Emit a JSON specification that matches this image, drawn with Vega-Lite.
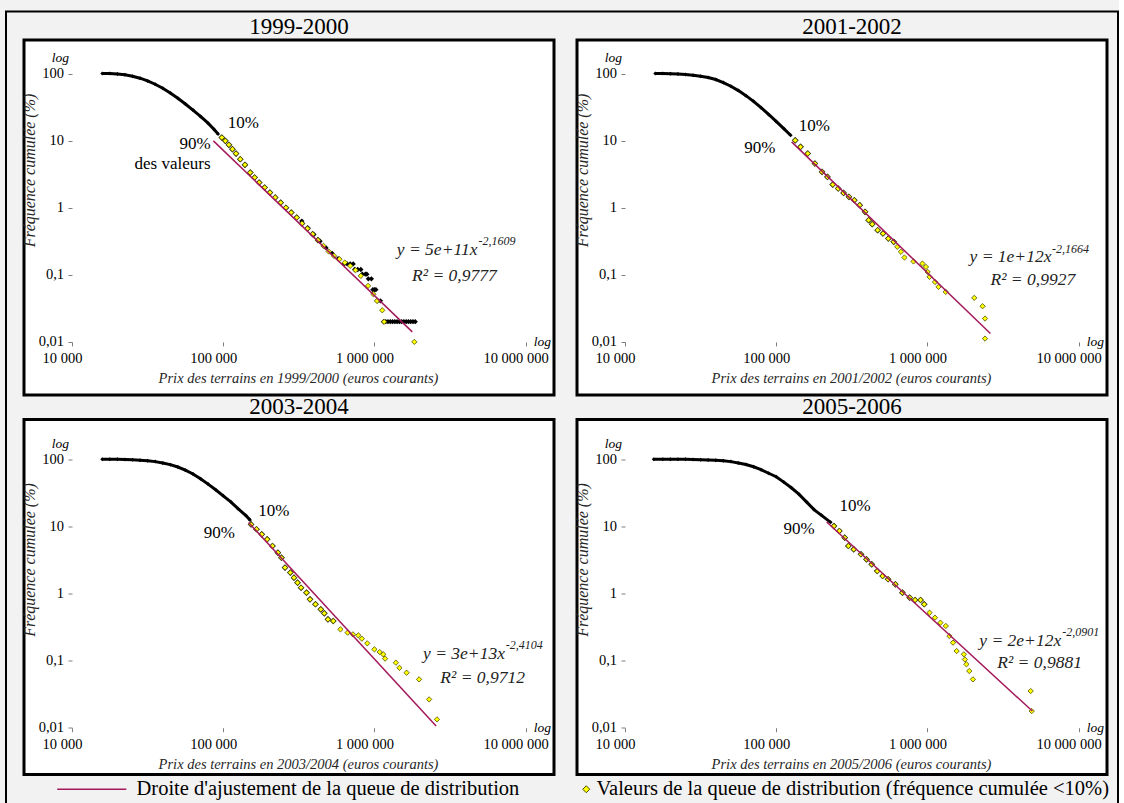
{
 "$schema": "https://vega.github.io/schema/vega-lite/v6.json",
 "background": "#f2f2f2",
 "padding": {"left": 5, "top": 10, "right": 0, "bottom": 0},
 "config": {
  "font": "Liberation Serif",
  "view": {"fill": "white", "stroke": "black", "strokeWidth": 3},
  "title": {"font": "Liberation Serif", "fontSize": 23, "fontWeight": "normal", "color": "black", "offset": 1, "anchor": "middle"},
  "axis": {"domain": false, "grid": false, "ticks": true, "tickSize": 4, "tickColor": "#7f7f7f", "labelFont": "Liberation Serif", "labelFontSize": 14.5, "labelColor": "black", "titleFont": "Liberation Serif", "titleFontStyle": "italic", "titleFontWeight": "normal", "titleColor": "#262626", "labelOverlap": false, "labelFlush": false},
  "axisX": {"labelPadding": 5.5, "titleFontSize": 14.5, "titlePadding": 7, "titleX": 274},
  "axisY": {"labelPadding": 4.5, "titleFontSize": 16, "titlePadding": 1},
  "legend": {"labelFont": "Liberation Serif", "labelFontSize": 20.5, "labelColor": "black", "labelLimit": 0, "padding": 0, "orient": "none", "strokeWidth": 2}
 },
 "datasets": {
  "logy": [{"t": "log", "x": 10000, "y": 170}],
  "logx": [{"t": "log", "x": 11300000, "y": 0.01}],
  "b1": [{"x":15850,"y":100},{"x":17780,"y":100},{"x":19950,"y":98.4},{"x":22390,"y":95.5},{"x":25120,"y":91.2},{"x":28180,"y":85.1},{"x":31620,"y":77.6},{"x":35480,"y":69.2},{"x":39810,"y":60.3},{"x":44670,"y":51.3},{"x":50120,"y":42.7},{"x":56230,"y":35.1},{"x":63100,"y":28.5},{"x":70790,"y":22.9},{"x":79430,"y":18.2},{"x":87100,"y":14.6},{"x":92500,"y":12.5}],
  "k1": [{"x":331000,"y":0.631},{"x":363000,"y":0.501},{"x":398000,"y":0.398},{"x":437000,"y":0.316},{"x":479000,"y":0.251},{"x":525000,"y":0.209},{"x":575000,"y":0.174},{"x":631000,"y":0.145},{"x":661000,"y":0.145},{"x":692000,"y":0.145},{"x":724000,"y":0.145},{"x":741000,"y":0.12},{"x":776000,"y":0.12},{"x":813000,"y":0.12},{"x":832000,"y":0.102},{"x":871000,"y":0.102},{"x":891000,"y":0.102},{"x":912000,"y":0.087},{"x":955000,"y":0.087},{"x":977000,"y":0.06},{"x":1000000,"y":0.06},{"x":1023000,"y":0.06},{"x":1047000,"y":0.041},{"x":1096000,"y":0.041},{"x":1148000,"y":0.02},{"x":1189000,"y":0.02},{"x":1230000,"y":0.02},{"x":1274000,"y":0.02},{"x":1318000,"y":0.02},{"x":1365000,"y":0.02},{"x":1413000,"y":0.02},{"x":1462000,"y":0.02},{"x":1514000,"y":0.02},{"x":1567000,"y":0.02},{"x":1622000,"y":0.02},{"x":1679000,"y":0.02},{"x":1738000,"y":0.02},{"x":1799000,"y":0.02},{"x":1862000,"y":0.02}],
  "t1": [{"x":97900,"y":11.1},{"x":103300,"y":9.91},{"x":109100,"y":8.65},{"x":115100,"y":7.45},{"x":121600,"y":6.41},{"x":129700,"y":5.28},{"x":139300,"y":4.35},{"x":151000,"y":3.34},{"x":161400,"y":2.82},{"x":173000,"y":2.37},{"x":187900,"y":2.0},{"x":203700,"y":1.68},{"x":220800,"y":1.42},{"x":239900,"y":1.19},{"x":260000,"y":1.0},{"x":281800,"y":0.847},{"x":306200,"y":0.713},{"x":331900,"y":0.581},{"x":360600,"y":0.489},{"x":390800,"y":0.403},{"x":423600,"y":0.328},{"x":460300,"y":0.27},{"x":498900,"y":0.222},{"x":540800,"y":0.191},{"x":587500,"y":0.171},{"x":636800,"y":0.152},{"x":691800,"y":0.136},{"x":749900,"y":0.117},{"x":812800,"y":0.0964},{"x":907800,"y":0.0684},{"x":984000,"y":0.0514},{"x":1040000,"y":0.0408},{"x":1127000,"y":0.0296},{"x":1159000,"y":0.0199},{"x":1837000,"y":0.01}],
  "f1": [{"x":86100,"y":9.9},{"x":1780000,"y":0.0141}],
  "b2": [{"x":15850,"y":100},{"x":17780,"y":100},{"x":19950,"y":99.5},{"x":22390,"y":98.4},{"x":25120,"y":96.6},{"x":28180,"y":94.4},{"x":31620,"y":91.2},{"x":35480,"y":87.1},{"x":39810,"y":81.3},{"x":44670,"y":73.3},{"x":50120,"y":64.6},{"x":56230,"y":55.6},{"x":63100,"y":46.8},{"x":70790,"y":38.5},{"x":79430,"y":30.9},{"x":89130,"y":24.5},{"x":100000,"y":19.3},{"x":112200,"y":15.1},{"x":124500,"y":12.0}],
  "t2": [{"x":133600,"y":10.1},{"x":144900,"y":8.07},{"x":161600,"y":6.42},{"x":180300,"y":4.55},{"x":201000,"y":3.42},{"x":218200,"y":2.88},{"x":236600,"y":2.21},{"x":257000,"y":1.93},{"x":279000,"y":1.66},{"x":302700,"y":1.45},{"x":328600,"y":1.29},{"x":356500,"y":1.09},{"x":387100,"y":0.867},{"x":408500,"y":0.651},{"x":431500,"y":0.568},{"x":468800,"y":0.462},{"x":508200,"y":0.412},{"x":551800,"y":0.347},{"x":598500,"y":0.31},{"x":632000,"y":0.261},{"x":668000,"y":0.22},{"x":705000,"y":0.181},{"x":809000,"y":0.158},{"x":927000,"y":0.147},{"x":978000,"y":0.131},{"x":1004000,"y":0.11},{"x":1033000,"y":0.093},{"x":1122000,"y":0.078},{"x":1184000,"y":0.066},{"x":1321000,"y":0.0556},{"x":2042000,"y":0.0453},{"x":2317000,"y":0.034},{"x":2404000,"y":0.0223},{"x":2404000,"y":0.0112}],
  "f2": [{"x":126500,"y":9.57},{"x":2610000,"y":0.0133}],
  "b3": [{"x":15850,"y":100},{"x":17780,"y":100},{"x":19950,"y":100},{"x":22390,"y":99.3},{"x":25120,"y":98.4},{"x":28180,"y":97.0},{"x":31620,"y":95.1},{"x":35480,"y":92.3},{"x":39810,"y":88.1},{"x":44670,"y":83.2},{"x":50120,"y":76.7},{"x":56230,"y":68.9},{"x":63100,"y":60.3},{"x":70790,"y":51.3},{"x":79430,"y":42.7},{"x":89130,"y":35.1},{"x":100000,"y":28.5},{"x":112200,"y":23.2},{"x":125900,"y":18.2},{"x":141300,"y":14.5},{"x":150300,"y":12.5}],
  "t3": [{"x":152800,"y":10.7},{"x":166000,"y":9.06},{"x":179900,"y":7.62},{"x":195300,"y":6.42},{"x":211800,"y":5.10},{"x":230000,"y":4.06},{"x":242800,"y":3.42},{"x":256300,"y":2.43},{"x":278000,"y":2.05},{"x":293800,"y":1.72},{"x":310300,"y":1.45},{"x":327400,"y":1.22},{"x":355600,"y":1.03},{"x":375100,"y":0.818},{"x":407400,"y":0.69},{"x":441800,"y":0.581},{"x":466400,"y":0.506},{"x":493000,"y":0.412},{"x":534600,"y":0.389},{"x":596100,"y":0.292},{"x":665000,"y":0.261},{"x":721000,"y":0.246},{"x":783000,"y":0.238},{"x":826000,"y":0.212},{"x":897000,"y":0.181},{"x":1000000,"y":0.147},{"x":1084000,"y":0.134},{"x":1145000,"y":0.124},{"x":1177000,"y":0.107},{"x":1387000,"y":0.093},{"x":1464000,"y":0.078},{"x":1632000,"y":0.066},{"x":1975000,"y":0.0525},{"x":2301000,"y":0.0264},{"x":2594000,"y":0.0133}],
  "f3": [{"x":147200,"y":11.4},{"x":2560000,"y":0.0106}],
  "b4": [{"x":15490,"y":100},{"x":17780,"y":100},{"x":19950,"y":100},{"x":22390,"y":100},{"x":25120,"y":99.8},{"x":28180,"y":99.3},{"x":31620,"y":98.6},{"x":35480,"y":97.7},{"x":39810,"y":96.6},{"x":44670,"y":95.1},{"x":50120,"y":92.3},{"x":56230,"y":88.1},{"x":63100,"y":83.6},{"x":70790,"y":77.3},{"x":79430,"y":70.0},{"x":89130,"y":61.9},{"x":100000,"y":55.0},{"x":112200,"y":45.7},{"x":125900,"y":37.6},{"x":141300,"y":30.2},{"x":158500,"y":23.2},{"x":177800,"y":17.8},{"x":199500,"y":14.6},{"x":229100,"y":11.5}],
  "t4": [{"x":241000,"y":10.1},{"x":261800,"y":8.55},{"x":284000,"y":6.79},{"x":300000,"y":5.10},{"x":325800,"y":4.55},{"x":363700,"y":3.84},{"x":395400,"y":3.23},{"x":428500,"y":2.72},{"x":465600,"y":2.16},{"x":505800,"y":1.82},{"x":549500,"y":1.63},{"x":613800,"y":1.37},{"x":684000,"y":1.03},{"x":763600,"y":0.867},{"x":829000,"y":0.8},{"x":901000,"y":0.8},{"x":952000,"y":0.69},{"x":1033000,"y":0.518},{"x":1122000,"y":0.436},{"x":1219000,"y":0.367},{"x":1324000,"y":0.328},{"x":1399000,"y":0.232},{"x":1477000,"y":0.185},{"x":1560000,"y":0.139},{"x":1742000,"y":0.124},{"x":1770000,"y":0.104},{"x":1811000,"y":0.088},{"x":1892000,"y":0.07},{"x":2000000,"y":0.0525},{"x":4819000,"y":0.0352},{"x":4898000,"y":0.0177}],
  "f4": [{"x":215800,"y":11.6},{"x":4940000,"y":0.0177}]
 },
 "spacing": -3.5,
 "vconcat": [
  {"spacing": 16, "hconcat": [
   {"width": 530, "height": 355, "title": {"text": "1999-2000", "dx": 10},
    "encoding": {
     "x": {"field": "x", "type": "quantitative", "scale": {"type": "log", "domain": [4814, 15410000], "nice": false}, "axis": {"values": [10000, 100000, 1000000, 10000000], "labelExpr": "replace(replace(format(datum.value, ',d'), ',', ' '), ',', ' ')", "labelOffset": -10, "offset": -53.1, "title": "Prix des terrains en 1999/2000 (euros courants)"}},
     "y": {"field": "y", "type": "quantitative", "scale": {"type": "log", "domain": [0.001616, 315.8], "nice": false}, "axis": {"values": [0.01, 0.1, 1, 10, 100], "labelExpr": "replace(toString(datum.value), '.', ',')", "offset": -48, "title": "Fréquence cumulée (%)", "titleY": 130}}
    },
    "layer": [
     {"data": {"values": [{}]}, "mark": {"type": "rule", "color": "#7f7f7f", "strokeWidth": 1}, "encoding": {"x": {"datum": 10000, "type": "quantitative"}, "x2": {"datum": 11000000}, "y": {"datum": 0.01, "type": "quantitative"}, "strokeDash": {"datum": "cadre", "type": "nominal", "scale": {"range": [[1, 0]]}, "legend": {"title": null, "orient": "none", "legendX": -18, "legendY": -28.5, "padding": 399.5, "strokeColor": "black", "symbolSize": 0, "symbolStrokeWidth": 0, "symbolOpacity": 0, "labelFontSize": 1, "labelExpr": "''", "labelOffset": 312}}}},
     {"data": {"values": [{}]}, "mark": {"type": "rule", "color": "#7f7f7f", "strokeWidth": 1}, "encoding": {"x": {"datum": 10000, "type": "quantitative"}, "y": {"datum": 0.01, "type": "quantitative"}, "y2": {"datum": 200}}},
     {"data": {"name": "b1"}, "mark": {"type": "line", "color": "black", "strokeWidth": 3}},
     {"data": {"name": "b1"}, "mark": {"type": "point", "shape": "diamond", "filled": true, "color": "black", "size": 16, "opacity": 1}},
     {"data": {"name": "k1"}, "mark": {"type": "point", "shape": "diamond", "filled": true, "color": "black", "size": 28, "opacity": 1}},
     {"data": {"name": "t1"}, "transform": [{"filter": "datum.y > 0.3"}], "mark": {"type": "point", "shape": "diamond", "filled": true, "color": "black", "size": 44, "opacity": 1}},
     {"data": {"name": "t1"}, "mark": {"type": "point", "shape": "diamond", "filled": true, "fill": "#ffff00", "stroke": "#4d4d00", "strokeWidth": 0.8, "size": 28, "opacity": 1}},
     {"data": {"values": [{}]}, "mark": {"type": "rule", "color": "black", "strokeWidth": 2.5}, "encoding": {"x": {"datum": 92500, "type": "quantitative"}, "y": {"datum": 4.5, "type": "quantitative"}, "y2": {"datum": 29.9}}},
     {"data": {"name": "f1"}, "mark": {"type": "line", "color": "#a3195b", "strokeWidth": 1.5}},
     {"data": {"values": [{"t": "90%", "x": 82500, "y": 8.8}, {"t": "des valeurs", "x": 82500, "y": 4.5}]}, "mark": {"type": "text", "align": "right", "baseline": "middle", "fontSize": 17, "color": "black"}, "encoding": {"text": {"field": "t", "type": "nominal"}}},
     {"data": {"values": [{"t": "10%", "x": 107000, "y": 18.3}]}, "mark": {"type": "text", "align": "left", "baseline": "middle", "fontSize": 17, "color": "black"}, "encoding": {"text": {"field": "t", "type": "nominal"}}},
     {"data": {"values": [{"t": "y = 5e+11x", "x": 4800000, "y": 0.233}]}, "mark": {"type": "text", "align": "right", "baseline": "middle", "fontSize": 17.5, "fontStyle": "italic", "color": "#222222"}, "encoding": {"text": {"field": "t", "type": "nominal"}}},
     {"data": {"values": [{"t": "-2,1609", "x": 4880000, "y": 0.318}]}, "mark": {"type": "text", "align": "left", "baseline": "middle", "fontSize": 12, "fontStyle": "italic", "color": "#222222"}, "encoding": {"text": {"field": "t", "type": "nominal"}}},
     {"data": {"values": [{"t": "R² = 0,9777", "x": 3380000, "y": 0.097}]}, "mark": {"type": "text", "align": "center", "baseline": "middle", "fontSize": 17.5, "fontStyle": "italic", "color": "#222222"}, "encoding": {"text": {"field": "t", "type": "nominal"}}},
     {"data": {"name": "logy"}, "mark": {"type": "text", "align": "right", "baseline": "middle", "fontSize": 13.5, "fontStyle": "italic", "dx": -3, "color": "black"}, "encoding": {"text": {"field": "t", "type": "nominal"}}},
     {"data": {"name": "logx"}, "mark": {"type": "text", "align": "left", "baseline": "middle", "fontSize": 13.5, "fontStyle": "italic", "color": "black"}, "encoding": {"text": {"field": "t", "type": "nominal"}}}
    ]},
   {"width": 530, "height": 355, "title": {"text": "2001-2002", "dx": 10},
    "encoding": {
     "x": {"field": "x", "type": "quantitative", "scale": {"type": "log", "domain": [4814, 15410000], "nice": false}, "axis": {"values": [10000, 100000, 1000000, 10000000], "labelExpr": "replace(replace(format(datum.value, ',d'), ',', ' '), ',', ' ')", "labelOffset": -10, "offset": -53.1, "title": "Prix des terrains en 2001/2002 (euros courants)"}},
     "y": {"field": "y", "type": "quantitative", "scale": {"type": "log", "domain": [0.001616, 315.8], "nice": false}, "axis": {"values": [0.01, 0.1, 1, 10, 100], "labelExpr": "replace(toString(datum.value), '.', ',')", "offset": -48, "title": "Fréquence cumulée (%)", "titleY": 130}}
    },
    "layer": [
     {"data": {"values": [{}]}, "mark": {"type": "rule", "color": "#7f7f7f", "strokeWidth": 1}, "encoding": {"x": {"datum": 10000, "type": "quantitative"}, "x2": {"datum": 11000000}, "y": {"datum": 0.01, "type": "quantitative"}}},
     {"data": {"values": [{}]}, "mark": {"type": "rule", "color": "#7f7f7f", "strokeWidth": 1}, "encoding": {"x": {"datum": 10000, "type": "quantitative"}, "y": {"datum": 0.01, "type": "quantitative"}, "y2": {"datum": 200}}},
     {"data": {"name": "b2"}, "mark": {"type": "line", "color": "black", "strokeWidth": 3}},
     {"data": {"name": "b2"}, "mark": {"type": "point", "shape": "diamond", "filled": true, "color": "black", "size": 16, "opacity": 1}},
     {"data": {"name": "t2"}, "transform": [{"filter": "datum.y > 0.3"}], "mark": {"type": "point", "shape": "diamond", "filled": true, "color": "black", "size": 44, "opacity": 1}},
     {"data": {"name": "t2"}, "mark": {"type": "point", "shape": "diamond", "filled": true, "fill": "#ffff00", "stroke": "#4d4d00", "strokeWidth": 0.8, "size": 28, "opacity": 1}},
     {"data": {"values": [{}]}, "mark": {"type": "rule", "color": "black", "strokeWidth": 2.5}, "encoding": {"x": {"datum": 124500, "type": "quantitative"}, "y": {"datum": 4.06, "type": "quantitative"}, "y2": {"datum": 25.9}}},
     {"data": {"name": "f2"}, "mark": {"type": "line", "color": "#a3195b", "strokeWidth": 1.5}},
     {"data": {"values": [{"t": "90%", "x": 98900, "y": 7.89}]}, "mark": {"type": "text", "align": "right", "baseline": "middle", "fontSize": 17, "color": "black"}, "encoding": {"text": {"field": "t", "type": "nominal"}}},
     {"data": {"values": [{"t": "10%", "x": 140900, "y": 16.4}]}, "mark": {"type": "text", "align": "left", "baseline": "middle", "fontSize": 17, "color": "black"}, "encoding": {"text": {"field": "t", "type": "nominal"}}},
     {"data": {"values": [{"t": "y = 1e+12x", "x": 6610000, "y": 0.185}]}, "mark": {"type": "text", "align": "right", "baseline": "middle", "fontSize": 17.5, "fontStyle": "italic", "color": "#222222"}, "encoding": {"text": {"field": "t", "type": "nominal"}}},
     {"data": {"values": [{"t": "-2,1664", "x": 6680000, "y": 0.246}]}, "mark": {"type": "text", "align": "left", "baseline": "middle", "fontSize": 12, "fontStyle": "italic", "color": "#222222"}, "encoding": {"text": {"field": "t", "type": "nominal"}}},
     {"data": {"values": [{"t": "R² = 0,9927", "x": 4980000, "y": 0.083}]}, "mark": {"type": "text", "align": "center", "baseline": "middle", "fontSize": 17.5, "fontStyle": "italic", "color": "#222222"}, "encoding": {"text": {"field": "t", "type": "nominal"}}},
     {"data": {"name": "logy"}, "mark": {"type": "text", "align": "right", "baseline": "middle", "fontSize": 13.5, "fontStyle": "italic", "dx": -3, "color": "black"}, "encoding": {"text": {"field": "t", "type": "nominal"}}},
     {"data": {"name": "logx"}, "mark": {"type": "text", "align": "left", "baseline": "middle", "fontSize": 13.5, "fontStyle": "italic", "color": "black"}, "encoding": {"text": {"field": "t", "type": "nominal"}}}
    ]}
  ]},
  {"spacing": 16, "hconcat": [
   {"width": 530, "height": 355, "title": {"text": "2003-2004", "dx": 10},
    "encoding": {
     "x": {"field": "x", "type": "quantitative", "scale": {"type": "log", "domain": [4814, 15410000], "nice": false}, "axis": {"values": [10000, 100000, 1000000, 10000000], "labelExpr": "replace(replace(format(datum.value, ',d'), ',', ' '), ',', ' ')", "labelOffset": -10, "offset": -46.8, "title": "Prix des terrains en 2003/2004 (euros courants)"}},
     "y": {"field": "y", "type": "quantitative", "scale": {"type": "log", "domain": [0.002007, 391.7], "nice": false}, "axis": {"values": [0.01, 0.1, 1, 10, 100], "labelExpr": "replace(toString(datum.value), '.', ',')", "offset": -48, "title": "Fréquence cumulée (%)", "titleY": 140}}
    },
    "layer": [
     {"data": {"values": [{}]}, "mark": {"type": "rule", "color": "#7f7f7f", "strokeWidth": 1}, "encoding": {"x": {"datum": 10000, "type": "quantitative"}, "x2": {"datum": 11000000}, "y": {"datum": 0.01, "type": "quantitative"}}},
     {"data": {"values": [{}]}, "mark": {"type": "rule", "color": "#7f7f7f", "strokeWidth": 1}, "encoding": {"x": {"datum": 10000, "type": "quantitative"}, "y": {"datum": 0.01, "type": "quantitative"}, "y2": {"datum": 200}}},
     {"data": {"name": "b3"}, "mark": {"type": "line", "color": "black", "strokeWidth": 3}},
     {"data": {"name": "b3"}, "mark": {"type": "point", "shape": "diamond", "filled": true, "color": "black", "size": 16, "opacity": 1}},
     {"data": {"name": "t3"}, "transform": [{"filter": "datum.y > 0.3"}], "mark": {"type": "point", "shape": "diamond", "filled": true, "color": "black", "size": 44, "opacity": 1}},
     {"data": {"name": "t3"}, "mark": {"type": "point", "shape": "diamond", "filled": true, "fill": "#ffff00", "stroke": "#4d4d00", "strokeWidth": 0.8, "size": 28, "opacity": 1}},
     {"data": {"values": [{}]}, "mark": {"type": "rule", "color": "black", "strokeWidth": 2.5}, "encoding": {"x": {"datum": 150300, "type": "quantitative"}, "y": {"datum": 4.06, "type": "quantitative"}, "y2": {"datum": 26.8}}},
     {"data": {"name": "f3"}, "mark": {"type": "line", "strokeWidth": 1.5}, "encoding": {"stroke": {"datum": "Droite d'ajustement de la queue de distribution", "type": "nominal", "scale": {"range": ["#a3195b"]}, "legend": {"title": null, "orient": "none", "legendX": 0, "legendY": 739, "symbolType": "M6.57,0H26.3", "symbolSize": 49, "symbolStrokeWidth": 1.5, "labelOffset": 92}}}},
     {"data": {"values": [{"t": "90%", "x": 119700, "y": 7.89}]}, "mark": {"type": "text", "align": "right", "baseline": "middle", "fontSize": 17, "color": "black"}, "encoding": {"text": {"field": "t", "type": "nominal"}}},
     {"data": {"values": [{"t": "10%", "x": 170600, "y": 17}]}, "mark": {"type": "text", "align": "left", "baseline": "middle", "fontSize": 17, "color": "black"}, "encoding": {"text": {"field": "t", "type": "nominal"}}},
     {"data": {"values": [{"t": "y = 3e+13x", "x": 7300000, "y": 0.124}]}, "mark": {"type": "text", "align": "right", "baseline": "middle", "fontSize": 17.5, "fontStyle": "italic", "color": "#222222"}, "encoding": {"text": {"field": "t", "type": "nominal"}}},
     {"data": {"values": [{"t": "-2,4104", "x": 7380000, "y": 0.169}]}, "mark": {"type": "text", "align": "left", "baseline": "middle", "fontSize": 12, "fontStyle": "italic", "color": "#222222"}, "encoding": {"text": {"field": "t", "type": "nominal"}}},
     {"data": {"values": [{"t": "R² = 0,9712", "x": 5200000, "y": 0.0556}]}, "mark": {"type": "text", "align": "center", "baseline": "middle", "fontSize": 17.5, "fontStyle": "italic", "color": "#222222"}, "encoding": {"text": {"field": "t", "type": "nominal"}}},
     {"data": {"name": "logy"}, "mark": {"type": "text", "align": "right", "baseline": "middle", "fontSize": 13.5, "fontStyle": "italic", "dx": -3, "color": "black"}, "encoding": {"text": {"field": "t", "type": "nominal"}}},
     {"data": {"name": "logx"}, "mark": {"type": "text", "align": "left", "baseline": "middle", "fontSize": 13.5, "fontStyle": "italic", "color": "black"}, "encoding": {"text": {"field": "t", "type": "nominal"}}}
    ]},
   {"width": 530, "height": 355, "title": {"text": "2005-2006", "dx": 10},
    "encoding": {
     "x": {"field": "x", "type": "quantitative", "scale": {"type": "log", "domain": [4814, 15410000], "nice": false}, "axis": {"values": [10000, 100000, 1000000, 10000000], "labelExpr": "replace(replace(format(datum.value, ',d'), ',', ' '), ',', ' ')", "labelOffset": -10, "offset": -46.8, "title": "Prix des terrains en 2005/2006 (euros courants)"}},
     "y": {"field": "y", "type": "quantitative", "scale": {"type": "log", "domain": [0.002007, 391.7], "nice": false}, "axis": {"values": [0.01, 0.1, 1, 10, 100], "labelExpr": "replace(toString(datum.value), '.', ',')", "offset": -48, "title": "Fréquence cumulée (%)", "titleY": 140}}
    },
    "layer": [
     {"data": {"values": [{}]}, "mark": {"type": "rule", "color": "#7f7f7f", "strokeWidth": 1}, "encoding": {"x": {"datum": 10000, "type": "quantitative"}, "x2": {"datum": 11000000}, "y": {"datum": 0.01, "type": "quantitative"}}},
     {"data": {"values": [{}]}, "mark": {"type": "rule", "color": "#7f7f7f", "strokeWidth": 1}, "encoding": {"x": {"datum": 10000, "type": "quantitative"}, "y": {"datum": 0.01, "type": "quantitative"}, "y2": {"datum": 200}}},
     {"data": {"name": "b4"}, "mark": {"type": "line", "color": "black", "strokeWidth": 3}},
     {"data": {"name": "b4"}, "mark": {"type": "point", "shape": "diamond", "filled": true, "color": "black", "size": 16, "opacity": 1}},
     {"data": {"name": "t4"}, "transform": [{"filter": "datum.y > 0.6"}], "mark": {"type": "point", "shape": "diamond", "filled": true, "color": "black", "size": 44, "opacity": 1}},
     {"data": {"name": "t4"}, "mark": {"type": "point", "shape": "diamond", "filled": true, "stroke": "#4d4d00", "strokeWidth": 0.8, "size": 28, "opacity": 1}, "encoding": {"fill": {"datum": "Valeurs de la queue de distribution (fréquence cumulée <10%)", "type": "nominal", "scale": {"range": ["#ffff00"]}, "legend": {"title": null, "orient": "none", "legendX": 552, "legendY": 739, "symbolType": "diamond", "symbolSize": 49, "symbolStrokeColor": "#4d4d00", "symbolStrokeWidth": 1, "symbolOpacity": 1, "labelOffset": 0}}}},
     {"data": {"values": [{}]}, "mark": {"type": "rule", "color": "black", "strokeWidth": 2.5}, "encoding": {"x": {"datum": 229100, "type": "quantitative"}, "y": {"datum": 4.65, "type": "quantitative"}, "y2": {"datum": 30.8}}},
     {"data": {"name": "f4"}, "mark": {"type": "line", "color": "#a3195b", "strokeWidth": 1.5}},
     {"data": {"values": [{"t": "90%", "x": 179900, "y": 9.25}]}, "mark": {"type": "text", "align": "right", "baseline": "middle", "fontSize": 17, "color": "black"}, "encoding": {"text": {"field": "t", "type": "nominal"}}},
     {"data": {"values": [{"t": "10%", "x": 261700, "y": 20.1}]}, "mark": {"type": "text", "align": "left", "baseline": "middle", "fontSize": 17, "color": "black"}, "encoding": {"text": {"field": "t", "type": "nominal"}}},
     {"data": {"values": [{"t": "y = 2e+12x", "x": 7670000, "y": 0.196}]}, "mark": {"type": "text", "align": "right", "baseline": "middle", "fontSize": 17.5, "fontStyle": "italic", "color": "#222222"}, "encoding": {"text": {"field": "t", "type": "nominal"}}},
     {"data": {"values": [{"t": "-2,0901", "x": 7810000, "y": 0.267}]}, "mark": {"type": "text", "align": "left", "baseline": "middle", "fontSize": 12, "fontStyle": "italic", "color": "#222222"}, "encoding": {"text": {"field": "t", "type": "nominal"}}},
     {"data": {"values": [{"t": "R² = 0,9881", "x": 5520000, "y": 0.093}]}, "mark": {"type": "text", "align": "center", "baseline": "middle", "fontSize": 17.5, "fontStyle": "italic", "color": "#222222"}, "encoding": {"text": {"field": "t", "type": "nominal"}}},
     {"data": {"name": "logy"}, "mark": {"type": "text", "align": "right", "baseline": "middle", "fontSize": 13.5, "fontStyle": "italic", "dx": -3, "color": "black"}, "encoding": {"text": {"field": "t", "type": "nominal"}}},
     {"data": {"name": "logx"}, "mark": {"type": "text", "align": "left", "baseline": "middle", "fontSize": 13.5, "fontStyle": "italic", "color": "black"}, "encoding": {"text": {"field": "t", "type": "nominal"}}}
    ]}
  ]}
 ]
}
